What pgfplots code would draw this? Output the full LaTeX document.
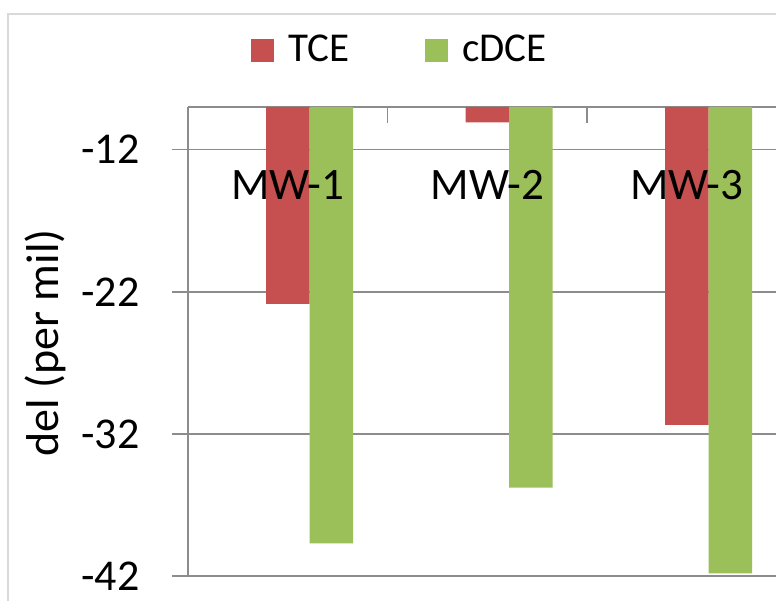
\documentclass[border=0pt]{standalone}
\usepackage{pgfplots}
\pgfplotsset{compat=1.18}
\usepackage{fontspec}
\setmainfont{Carlito}
\definecolor{tce}{HTML}{C6504F}
\definecolor{cdce}{HTML}{9BBF59}
\definecolor{gridc}{HTML}{8C8C8C}
\definecolor{bordc}{HTML}{D9D9D9}
\begin{document}
\begin{tikzpicture}
\draw[bordc, line width=1pt] (4pt,-20pt) -- (4pt,293pt) -- (420pt,293pt);
\begin{axis}[
  at={(94pt,12pt)}, anchor=south west,
  scale only axis, width=294pt, height=234.5pt,
  xmin=-0.5, xmax=2.447, ymin=-42, ymax=-9,
  enlargelimits=false,
  ybar=0pt, bar width=21.75pt,
  axis x line*=top, axis y line*=left,
  axis line style={draw=gridc, line width=0.75pt},
  xtick={0.5,1.5}, xticklabels={}, xtick align=inside,
  ytick={-42,-32,-22,-12}, ytick align=outside,
  major tick length=8pt,
  every tick/.style={draw=gridc, line width=0.75pt},
  ymajorgrids, major grid style={draw=gridc, line width=0.75pt},
  /pgf/number format/assume math mode=true,
  yticklabel style={font=\fontsize{22}{26}\selectfont, inner sep=0pt, anchor=east, xshift=-16pt},
  ylabel={del (per mil)},
  every axis y label/.style={at={(axis description cs:-0.243,0.497)}, rotate=90, anchor=center, font=\fontsize{23}{27}\selectfont},
  legend style={at={(axis description cs:0.362,1.1215)}, anchor=center, draw=none, fill=none,
    legend columns=2, font=\fontsize{20.5}{24}\selectfont, inner sep=0pt,
    /tikz/every odd column/.append style={column sep=5pt},
    /tikz/every even column/.append style={column sep=36pt}},
  legend image code/.code={\fill[#1] (0pt,-5.75pt) rectangle (11.5pt,5.75pt);},
]
\addplot[fill=tce, draw=none, bar shift=0pt] coordinates {(0,-22.85) (1,-10.08) (2,-31.37)};
\addplot[fill=cdce, draw=none, bar shift=21.75pt] coordinates {(0,-39.70) (1,-35.78) (2,-41.81)};
\legend{TCE, cDCE}
\node[font=\fontsize{22.5}{27}\selectfont] at (axis cs:0,-14.46) {MW-1};
\node[font=\fontsize{22.5}{27}\selectfont] at (axis cs:1,-14.46) {MW-2};
\node[font=\fontsize{22.5}{27}\selectfont] at (axis cs:2,-14.46) {MW-3};
\end{axis}
\pgfresetboundingbox
\useasboundingbox (0,0) rectangle (388pt,300pt);
\end{tikzpicture}
\end{document}
